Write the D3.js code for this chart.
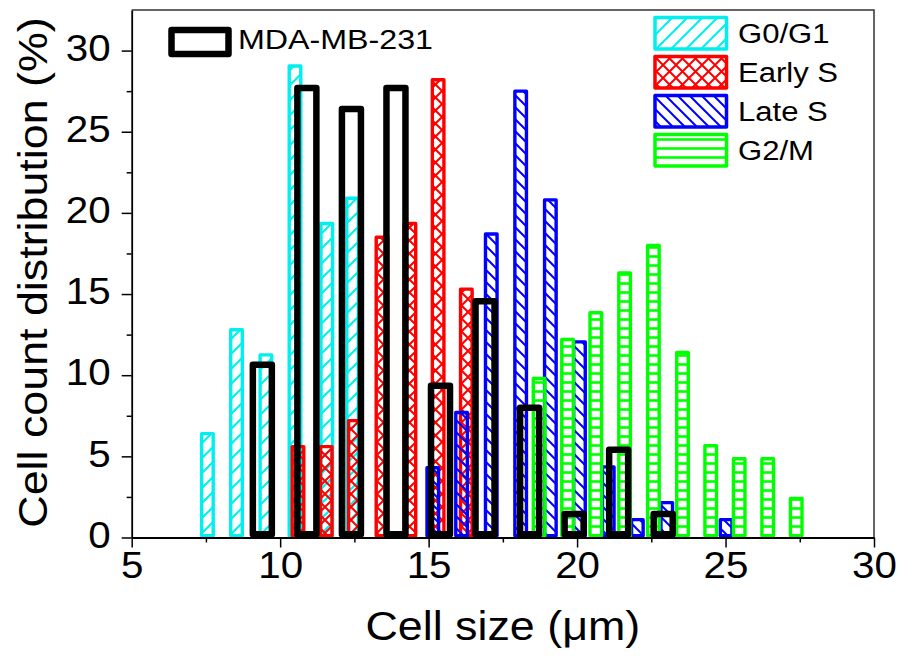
<!DOCTYPE html>
<html>
<head>
<meta charset="utf-8">
<script src="https://cdn.jsdelivr.net/npm/d3@7"></script>
<style>
  body { margin: 0; background: #fff; }
  svg { display: block; font-family: "Liberation Sans", Arial, sans-serif; }
</style>
</head>
<body>
<div id="chart"></div>
<script>
// bin centres (um) and cell count distribution (%) for each phase
const g0g1X = [7.55, 8.53, 9.52, 10.5, 11.57, 12.44];
const g0g1Y = [6.4, 12.8, 11.25, 29.05, 19.35, 20.9];

const earlySX = [10.6, 11.55, 12.5, 13.43, 14.37, 15.32, 16.27];
const earlySY = [5.6, 5.6, 7.2, 18.5, 19.35, 28.2, 15.3];

const lateSX = [15.14, 16.11, 17.11, 18.1, 19.1, 20.08, 21.05, 22.03, 23.02, 25.02];
const lateSY = [4.3, 7.7, 18.7, 27.5, 20.8, 12.05, 4.35, 1.1, 2.15, 1.1];

const g2mX = [18.72, 19.68, 20.63, 21.6, 22.57, 23.55, 24.5, 25.46, 26.42, 27.38];
const g2mY = [9.8, 12.2, 13.85, 16.3, 18.0, 11.4, 5.65, 4.85, 4.85, 2.4];

const mdaX = [9.4, 10.9, 12.4, 13.9, 15.4, 16.9, 18.4, 19.9, 21.4, 22.9];
const mdaY = [10.65, 27.7, 26.4, 27.7, 9.35, 14.55, 8.0, 1.45, 5.4, 1.45];

const phaseNames = ["G0/G1", "Early S", "Late S", "G2/M"];
const xTicks = [5, 10, 15, 20, 25, 30];
const yTicks = [0, 5, 10, 15, 20, 25, 30];

const width = 899, height = 657;
const margin = { top: 10, right: 25, bottom: 119.5, left: 131.7 };

const svg = d3.select("#chart").append("svg")
    .attr("width", width)
    .attr("height", height);

const x = d3.scaleLinear().domain([5, 30]).range([margin.left, width - margin.right]);
const y = d3.scaleLinear().domain([0, 32.5]).range([height - margin.bottom, margin.top]);

// hatch patterns
const defs = svg.append("defs");
function hatch(id, size, d, color, sw) {
    defs.append("pattern")
        .attr("id", id)
        .attr("patternUnits", "userSpaceOnUse")
        .attr("width", size).attr("height", size)
        .append("path")
        .attr("d", d)
        .attr("stroke", color)
        .attr("stroke-width", sw)
        .attr("fill", "none");
}
hatch("pCyan", 15, "M0,15L15,0M-4,4L4,-4M11,19L19,11", "#00f0f0", 2);
hatch("pRed", 13, "M0,0L13,13M13,0L0,13", "#ff0000", 2);
hatch("pBlue", 12, "M0,0L12,12M-4,8L4,16M8,-4L16,4", "#0000ff", 2);
hatch("pGreen", 9, "M0,4.5L9,4.5", "#00ff00", 2.6);

const series = [
    { name: phaseNames[0], xs: g0g1X, ys: g0g1Y, color: "#00f0f0", fill: "url(#pCyan)" },
    { name: phaseNames[1], xs: earlySX, ys: earlySY, color: "#ff0000", fill: "url(#pRed)" },
    { name: phaseNames[2], xs: lateSX, ys: lateSY, color: "#0000ff", fill: "url(#pBlue)" },
    { name: phaseNames[3], xs: g2mX, ys: g2mY, color: "#00ff00", fill: "url(#pGreen)" }
];

defs.append("clipPath").attr("id", "plotClip")
    .append("rect")
    .attr("x", margin.left).attr("y", margin.top)
    .attr("width", x(30) - margin.left).attr("height", y(0) - margin.top);

const plot = svg.append("g").attr("clip-path", "url(#plotClip)");

const barW = 0.39;   // colored bars, data units
const swC = 3.4;
series.forEach(s => {
    plot.append("g")
        .selectAll("rect")
        .data(s.xs.map((v, i) => ({ x: v, y: s.ys[i] })))
        .join("rect")
        .attr("x", d => x(d.x - barW / 2))
        .attr("y", d => y(d.y))
        .attr("width", x(barW) - x(0))
        .attr("height", d => y(0) - y(d.y) - swC / 2)
        .attr("fill", s.fill)
        .attr("stroke", s.color)
        .attr("stroke-width", swC)
        .attr("stroke-linejoin", "round");
});

const mdaW = 0.64;
const swB = 6.5;
plot.append("g")
    .selectAll("rect")
    .data(mdaX.map((v, i) => ({ x: v, y: mdaY[i] })))
    .join("rect")
    .attr("x", d => x(d.x - mdaW / 2))
    .attr("y", d => y(d.y))
    .attr("width", x(mdaW) - x(0))
    .attr("height", d => y(0) - y(d.y) - swB / 2)
    .attr("fill", "none")
    .attr("stroke", "#000")
    .attr("stroke-width", swB)
    .attr("stroke-linejoin", "round");

// stretch text a little, like the original export
function widen(sel, k) {
    sel.each(function () {
        const w = this.getComputedTextLength();
        d3.select(this).attr("textLength", w * k).attr("lengthAdjust", "spacingAndGlyphs");
    });
}

// frame
svg.append("path")
    .attr("d", `M${margin.left},${y(32.5)}H${x(30)}V${y(0)}`)
    .attr("fill", "none")
    .attr("stroke", "#333")
    .attr("stroke-width", 1.5);

// axes
const xAxis = svg.append("g")
    .attr("transform", `translate(0,${y(0)})`)
    .call(d3.axisBottom(x).tickValues(xTicks).tickSize(10).tickPadding(5).tickSizeOuter(0));
svg.append("g")
    .attr("transform", `translate(0,${y(0)})`)
    .call(d3.axisBottom(x).tickValues(d3.range(7.5, 30, 5)).tickSize(5).tickFormat("").tickSizeOuter(0))
    .call(g => g.select(".domain").remove());

const yAxis = svg.append("g")
    .attr("transform", `translate(${margin.left},0)`)
    .call(d3.axisLeft(y).tickValues(yTicks).tickSize(10).tickPadding(11).tickSizeOuter(0));
svg.append("g")
    .attr("transform", `translate(${margin.left},0)`)
    .call(d3.axisLeft(y).tickValues(d3.range(2.5, 30, 5)).tickSize(5).tickFormat("").tickSizeOuter(0))
    .call(g => g.select(".domain").remove());

svg.selectAll(".domain").attr("stroke", "#000").attr("stroke-width", 1.8);
svg.selectAll(".tick line").attr("stroke", "#000").attr("stroke-width", 1.5);
svg.selectAll(".tick text")
    .attr("font-family", "Liberation Sans, Arial, sans-serif")
    .attr("font-size", 36)
    .attr("fill", "#000");
yAxis.selectAll(".tick text").attr("dy", "0.27em");
widen(svg.selectAll(".tick text"), 1.12);

// axis titles
svg.append("text")
    .attr("x", (x(5) + x(30)) / 2)
    .attr("y", 640)
    .attr("text-anchor", "middle")
    .attr("font-size", 40)
    .text("Cell size (μm)")
    .call(widen, 1.12);

svg.append("text")
    .attr("transform", `translate(46.7,${(15 + 530) / 2}) rotate(-90)`)
    .attr("text-anchor", "middle")
    .attr("font-size", 40)
    .text("Cell count distribution (%)")
    .call(widen, 1.12);

// legend: MDA-MB-231
svg.append("rect")
    .attr("x", 171.5).attr("y", 30)
    .attr("width", 57).attr("height", 24)
    .attr("fill", "none")
    .attr("stroke", "#000")
    .attr("stroke-width", swB)
    .attr("stroke-linejoin", "round");
svg.append("text")
    .attr("x", 238).attr("y", 48.5)
    .attr("font-size", 28)
    .text("MDA-MB-231")
    .call(widen, 1.15);

// legend: phases
const leg = svg.append("g").selectAll("g")
    .data(series)
    .join("g")
    .attr("transform", (d, i) => `translate(0,${i * 39})`);
leg.append("rect")
    .attr("x", 655).attr("y", 17.5)
    .attr("width", 71.5).attr("height", 31.5)
    .attr("fill", d => d.fill)
    .attr("stroke", d => d.color)
    .attr("stroke-width", 3.5)
    .attr("stroke-linejoin", "round");
leg.append("text")
    .attr("x", 738).attr("y", 43.3)
    .attr("font-size", 27)
    .text(d => d.name)
    .call(widen, 1.15);
</script>
</body>
</html>
